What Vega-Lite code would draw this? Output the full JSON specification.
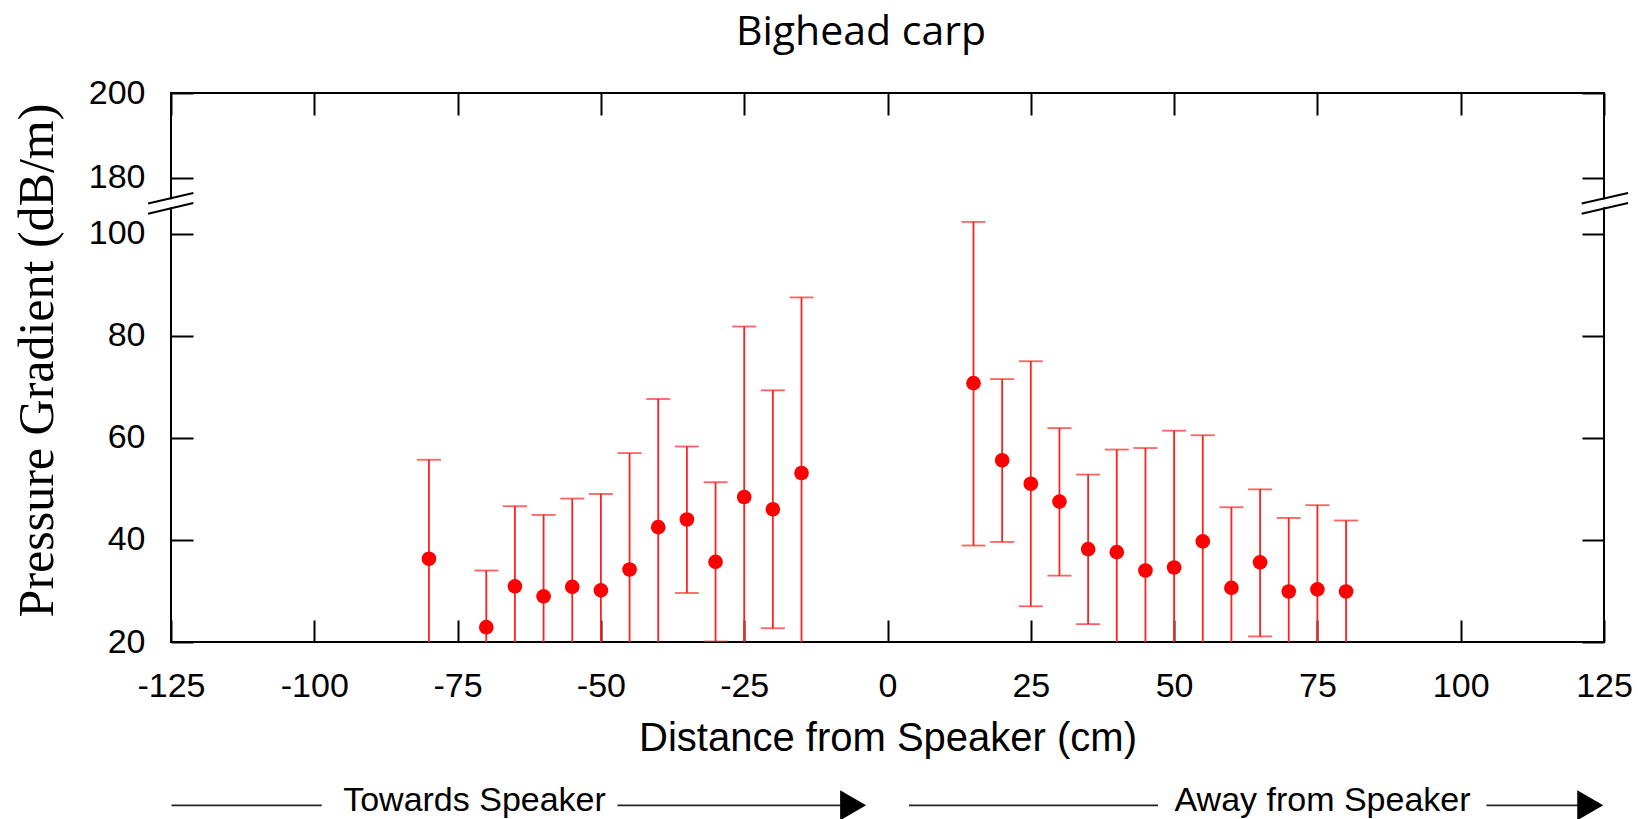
{
  "$schema": "https://vega.github.io/schema/vega-lite/v6.json",
  "autosize": {"type": "none"},
  "padding": {"left": 171, "top": 93, "right": 34, "bottom": 177},
  "width": 1433,
  "height": 549,
  "background": "white",
  "config": {
    "view": {"stroke": "black", "strokeWidth": 2},
    "axis": {
      "grid": false,
      "domain": false,
      "labelFont": "Liberation Sans",
      "labelFontSize": 34,
      "labelColor": "black",
      "tickColor": "black",
      "tickWidth": 2,
      "titleColor": "black",
      "titleFontWeight": "normal",
      "labelFlush": false,
      "labelOverlap": false
    }
  },
  "title": {
    "text": "Bighead carp",
    "font": "Open Sans",
    "fontSize": 41,
    "fontWeight": "normal",
    "color": "black",
    "anchor": "middle",
    "dx": -26.5,
    "offset": 22
  },
  "datasets": {
    "pts": [
      {"d": -80, "m": 36.3, "lo": 16.9, "hi": 55.7},
      {"d": -70, "m": 22.9, "lo": 11.8, "hi": 34.0},
      {"d": -65, "m": 30.9, "lo": 15.2, "hi": 46.6},
      {"d": -60, "m": 28.95, "lo": 13.0, "hi": 44.9},
      {"d": -55, "m": 30.8, "lo": 13.5, "hi": 48.1},
      {"d": -50, "m": 30.1, "lo": 11.2, "hi": 49.0},
      {"d": -45, "m": 34.2, "lo": 11.4, "hi": 57.0},
      {"d": -40, "m": 42.5, "lo": 17.4, "hi": 67.6},
      {"d": -35, "m": 44.0, "lo": 29.6, "hi": 58.3},
      {"d": -30, "m": 35.7, "lo": 20.1, "hi": 51.3},
      {"d": -25, "m": 48.4, "lo": 15.0, "hi": 81.8},
      {"d": -20, "m": 46.0, "lo": 22.7, "hi": 69.3},
      {"d": -15, "m": 53.1, "lo": 18.7, "hi": 87.5},
      {"d": 15, "m": 70.7, "lo": 38.9, "hi": 102.3},
      {"d": 20, "m": 55.6, "lo": 39.6, "hi": 71.5},
      {"d": 25, "m": 51.0, "lo": 27.0, "hi": 75.0},
      {"d": 30, "m": 47.5, "lo": 33.0, "hi": 61.9},
      {"d": 35, "m": 38.2, "lo": 23.5, "hi": 52.8},
      {"d": 40, "m": 37.6, "lo": 17.5, "hi": 57.7},
      {"d": 45, "m": 34.0, "lo": 10.0, "hi": 58.0},
      {"d": 50, "m": 34.6, "lo": 7.8, "hi": 61.4},
      {"d": 55, "m": 39.7, "lo": 18.9, "hi": 60.5},
      {"d": 60, "m": 30.6, "lo": 14.8, "hi": 46.4},
      {"d": 65, "m": 35.6, "lo": 21.1, "hi": 49.9},
      {"d": 70, "m": 29.9, "lo": 15.5, "hi": 44.3},
      {"d": 75, "m": 30.3, "lo": 13.8, "hi": 46.8},
      {"d": 80, "m": 29.9, "lo": 16.0, "hi": 43.8}
    ],
    "gaps": [
      {"x": -125, "y1": 107.0, "y2": 126.6},
      {"x": 125, "y1": 107.0, "y2": 126.6}
    ],
    "slashes": [
      {"x1": -129.0, "x2": -121.1, "y1": 103.9, "y2": 117.5},
      {"x1": -129.0, "x2": -121.1, "y1": 116.1, "y2": 142.1},
      {"x1": 121.1, "x2": 129.2, "y1": 103.9, "y2": 117.5},
      {"x1": 121.1, "x2": 129.2, "y1": 116.1, "y2": 142.1}
    ],
    "alines": [
      {"x1": -124.9, "x2": -98.7},
      {"x1": -47.1, "x2": -6.0},
      {"x1": 3.75, "x2": 47.2},
      {"x1": 104.5, "x2": 122.6}
    ],
    "arrows": [
      {"x": -6.0},
      {"x": 122.6}
    ],
    "alabels": [
      {"x": -72.05, "t": "Towards Speaker"},
      {"x": 75.9, "t": "Away from Speaker"}
    ]
  },
  "layer": [
    {
      "data": {"name": "pts"},
      "mark": {"type": "rule", "color": "#ff2020", "strokeWidth": 1.8, "clip": true},
      "encoding": {
        "x": {
          "field": "d", "type": "quantitative",
          "scale": {"domain": [-125, 125], "nice": false, "zero": false},
          "axis": {
            "orient": "bottom", "offset": -22, "tickSize": 22, "labelPadding": 27,
            "values": [-125, -100, -75, -50, -25, 0, 25, 50, 75, 100, 125],
            "labelExpr": "datum.value < 0 ? '-' + abs(datum.value) : '' + datum.value",
            "titleFont": "Liberation Sans", "titleFontSize": 40, "titlePadding": 15
          },
          "title": "Distance from Speaker (cm)"
        },
        "y": {
          "field": "lo", "type": "quantitative",
          "scale": {"domain": [20, 100, 105, 180, 200], "range": [549, 140.6, 115.1, 84.6, 0], "nice": false, "zero": false},
          "axis": {
            "orient": "left", "offset": -22, "tickSize": 22, "labelPadding": 26,
            "values": [20, 40, 60, 80, 100, 180, 200],
            "titleFont": "Liberation Serif", "titleFontSize": 50, "titlePadding": 26, "titleY": 267
          },
          "title": "Pressure Gradient (dB/m)"
        },
        "y2": {"field": "hi"}
      }
    },
    {
      "data": {"name": "pts"},
      "mark": {"type": "tick", "orient": "horizontal", "size": 24, "thickness": 1.8, "color": "#ff2020", "clip": true},
      "encoding": {
        "x": {"field": "d", "type": "quantitative", "axis": null},
        "y": {"field": "hi", "type": "quantitative", "axis": null}
      }
    },
    {
      "data": {"name": "pts"},
      "mark": {"type": "tick", "orient": "horizontal", "size": 24, "thickness": 1.8, "color": "#ff2020", "clip": true},
      "encoding": {
        "x": {"field": "d", "type": "quantitative", "axis": null},
        "y": {"field": "lo", "type": "quantitative", "axis": null}
      }
    },
    {
      "data": {"name": "pts"},
      "mark": {"type": "circle", "color": "#ff0000", "opacity": 1, "size": 215},
      "encoding": {
        "x": {
          "field": "d", "type": "quantitative",
          "axis": {
            "orient": "top", "offset": -22, "tickSize": 22, "labels": false, "title": null,
            "values": [-125, -100, -75, -50, -25, 0, 25, 50, 75, 100, 125]
          }
        },
        "y": {
          "field": "m", "type": "quantitative",
          "axis": {
            "orient": "right", "offset": -22, "tickSize": 22, "labels": false, "title": null,
            "values": [20, 40, 60, 80, 100, 180, 200]
          }
        }
      }
    },
    {
      "data": {"name": "gaps"},
      "mark": {"type": "rule", "color": "white", "strokeWidth": 5, "clip": false},
      "encoding": {
        "x": {"field": "x", "type": "quantitative", "axis": null},
        "y": {"field": "y1", "type": "quantitative", "axis": null},
        "y2": {"field": "y2"}
      }
    },
    {
      "data": {"name": "slashes"},
      "mark": {"type": "rule", "color": "black", "strokeWidth": 2, "clip": false},
      "encoding": {
        "x": {"field": "x1", "type": "quantitative", "axis": null},
        "x2": {"field": "x2"},
        "y": {"field": "y1", "type": "quantitative", "axis": null},
        "y2": {"field": "y2"}
      }
    },
    {
      "data": {"name": "alines"},
      "mark": {"type": "rule", "color": "#222222", "strokeWidth": 1.6, "clip": false},
      "encoding": {
        "x": {"field": "x1", "type": "quantitative", "axis": null},
        "x2": {"field": "x2"},
        "y": {"datum": -12, "type": "quantitative", "axis": null}
      }
    },
    {
      "data": {"name": "arrows"},
      "mark": {"type": "point", "shape": "triangle-right", "filled": true, "color": "black", "opacity": 1, "size": 900, "clip": false},
      "encoding": {
        "x": {"field": "x", "type": "quantitative", "axis": null},
        "y": {"datum": -12, "type": "quantitative", "axis": null}
      }
    },
    {
      "data": {"name": "alabels"},
      "mark": {"type": "text", "font": "Liberation Sans", "fontSize": 34, "color": "black", "align": "center", "baseline": "alphabetic", "clip": false},
      "encoding": {
        "x": {"field": "x", "type": "quantitative", "axis": null},
        "y": {"datum": -13.2, "type": "quantitative", "axis": null},
        "text": {"field": "t"}
      }
    }
  ],
  "resolve": {"axis": {"x": "independent", "y": "independent"}}
}
